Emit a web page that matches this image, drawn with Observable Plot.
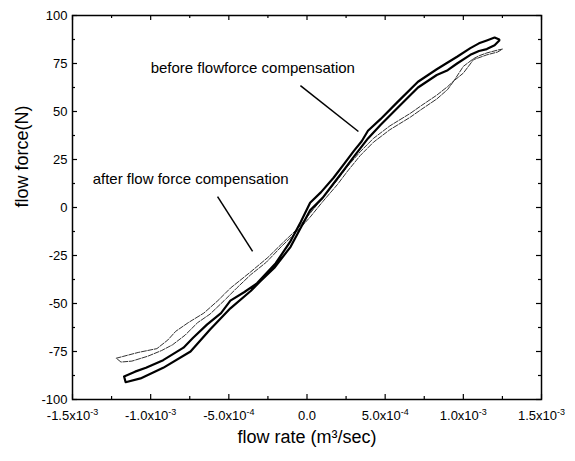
<!DOCTYPE html>
<html>
<head>
<meta charset="utf-8">
<script src="https://cdn.jsdelivr.net/npm/d3@7"></script>
<script src="https://cdn.jsdelivr.net/npm/@observablehq/plot@0.6"></script>
<style>
  html, body { margin: 0; padding: 0; background: #fff; }
  #chart svg { display: block; }
</style>
</head>
<body>
<div id="chart"></div>
<script>
// ---- Axis ticks ----
const xTickValues = [-1.5e-3, -1.0e-3, -5.0e-4, 0, 5.0e-4, 1.0e-3, 1.5e-3];
const xTickLabels = ["-1.5x10^-3", "-1.0x10^-3", "-5.0x10^-4", "0.0", "5.0x10^-4", "1.0x10^-3", "1.5x10^-3"];
const xMinorTicks = [-1.25e-3, -7.5e-4, -2.5e-4, 2.5e-4, 7.5e-4, 1.25e-3];
const yTickValues = [-100, -75, -50, -25, 0, 25, 50, 75, 100];
const yTickLabels = ["-100", "-75", "-50", "-25", "0", "25", "50", "75", "100"];
const yMinorTicks = [-87.5, -62.5, -37.5, -12.5, 12.5, 37.5, 62.5, 87.5];

// ---- "before flowforce compensation" loop (thick) ----
const beforeUpperX = [-11.7e-4, -11.0e-4, -10.3e-4, -9.2e-4, -7.9e-4, -7.3e-4, -6.4e-4, -5.5e-4, -4.9e-4, -4.0e-4, -3.2e-4, -2.0e-4, -1.05e-4, -0.4e-4, 0.2e-4, 0.9e-4, 1.7e-4, 2.4e-4, 3.0e-4, 3.5e-4, 3.9e-4, 4.7e-4, 5.8e-4, 7.1e-4, 8.3e-4, 9.0e-4, 9.6e-4, 10.45e-4, 11.0e-4, 11.5e-4, 12.0e-4, 12.3e-4];
const beforeUpperY = [-88, -85.5, -83.5, -79.5, -73, -68, -61, -55, -48.5, -44, -39.5, -29, -17.5, -7.5, 2.5, 8, 15.5, 23, 29.5, 34.5, 40, 46, 55, 65.5, 72, 75.5, 78.5, 83, 85.5, 87, 88.5, 87.5];
const beforeLowerX = [-11.7e-4, -11.6e-4, -10.65e-4, -9.2e-4, -7.45e-4, -6.2e-4, -4.9e-4, -3.6e-4, -3.0e-4, -2.1e-4, -1.05e-4, -0.4e-4, 0.2e-4, 1.0e-4, 1.7e-4, 2.4e-4, 3.0e-4, 3.9e-4, 4.7e-4, 5.8e-4, 7.1e-4, 8.3e-4, 9.0e-4, 9.6e-4, 10.45e-4, 11.0e-4, 11.5e-4, 12.0e-4, 12.3e-4];
const beforeLowerY = [-88, -91, -89, -83.5, -75, -63.5, -52.5, -43.5, -38.5, -31.5, -20.5, -10.5, -1.5, 5, 12.5, 20, 26.5, 36, 43, 52, 62.5, 69, 71.5, 75, 79.5, 81.5, 82.5, 84.5, 87];

// ---- "after flow force compensation" loop (thin) ----
const afterUpperX = [-12.2e-4, -11.5e-4, -10.8e-4, -9.6e-4, -8.9e-4, -8.4e-4, -7.6e-4, -6.6e-4, -5.7e-4, -4.9e-4, -3.6e-4, -2.5e-4, -1.5e-4, -0.6e-4, 0.2e-4, 1.0e-4, 1.95e-4, 2.6e-4, 3.4e-4, 4.25e-4, 5.3e-4, 6.6e-4, 7.3e-4, 8.3e-4, 9.0e-4, 9.4e-4, 10.0e-4, 10.65e-4, 11.0e-4, 11.5e-4, 12.2e-4, 12.5e-4];
const afterUpperY = [-78.5, -77, -75.5, -73.5, -69, -64.5, -60, -55, -48.5, -42, -33.5, -26, -18, -11, -3, 5, 14.5, 21.5, 29, 36, 42.5, 49, 53, 58.5, 63, 66, 73.5, 77.5, 79, 80.5, 82, 82.5];
const afterLowerX = [-12.2e-4, -11.9e-4, -11.2e-4, -10.2e-4, -9.3e-4, -8.6e-4, -7.8e-4, -7.0e-4, -6.2e-4, -5.3e-4, -4.5e-4, -3.6e-4, -2.6e-4, -1.6e-4, -0.7e-4, 0.2e-4, 1.0e-4, 1.95e-4, 2.6e-4, 3.4e-4, 4.25e-4, 5.3e-4, 6.6e-4, 7.3e-4, 8.3e-4, 9.0e-4, 9.4e-4, 10.0e-4, 10.65e-4, 11.5e-4, 12.2e-4, 12.5e-4];
const afterLowerY = [-78.5, -80.5, -80, -77.5, -74.5, -71.5, -66.5, -60, -55.5, -48.5, -42, -35, -28.5, -20, -13, -5, 3, 12, 19, 27, 34, 40.5, 47, 51, 56.5, 61.5, 66, 70, 77, 79.5, 81, 82.5];

// ---- Annotations ----
const annotationTexts = ["before flowforce compensation", "after flow force compensation"];
const annotationX = [-1.0e-3, -1.371e-3];
const annotationY = [72.4, 15.0];
const arrowX1 = [-4.2e-5, -5.72e-4];
const arrowY1 = [63.5, 5.7];
const arrowX2 = [3.29e-4, -3.48e-4];
const arrowY2 = [39.6, -22.9];

// ---- Build tables ----
function loop(ux, uy, lx, ly) {
  const up = ux.map((x, i) => ({x, y: uy[i]}));
  const low = lx.map((x, i) => ({x, y: ly[i]})).reverse();
  return up.concat(low);
}
const beforeLoop = loop(beforeUpperX, beforeUpperY, beforeLowerX, beforeLowerY);
const afterLoop = loop(afterUpperX, afterUpperY, afterLowerX, afterLowerY);
const annotations = annotationTexts.map((t, i) => ({t, x: annotationX[i], y: annotationY[i]}));
const arrows = arrowX1.map((x1, i) => ({x1, y1: arrowY1[i], x2: arrowX2[i], y2: arrowY2[i]}));

const FONT = "'Liberation Sans', Arial, Helvetica, sans-serif";
const frameH = 461 - 15 - 62;
const frameW = 575 - 72 - 34;

const chart = Plot.plot({
  width: 575,
  height: 461,
  marginLeft: 72,
  marginRight: 34,
  marginTop: 15,
  marginBottom: 62,
  style: {fontFamily: FONT, fontSize: "13px", color: "#000", background: "#fff", overflow: "visible"},
  x: {domain: [-1.5e-3, 1.5e-3]},
  y: {domain: [-100, 100]},
  marks: [
    // curves
    Plot.line(afterLoop, {x: "x", y: "y", stroke: "#333", strokeWidth: 1, strokeDasharray: "5,1.5"}),
    Plot.line(beforeLoop, {x: "x", y: "y", stroke: "#000", strokeWidth: 2.2}),
    // annotations
    Plot.link(arrows, {x1: "x1", y1: "y1", x2: "x2", y2: "y2", stroke: "#000", strokeWidth: 1.5}),
    Plot.text(annotations, {x: "x", y: "y", text: "t", textAnchor: "start", fontSize: 15, fill: "#000"}),
    // inward ticks
    Plot.tickX(xTickValues, {x: d => d, insetTop: frameH - 5, stroke: "#000", strokeWidth: 1.2}),
    Plot.tickX(xTickValues, {x: d => d, insetBottom: frameH - 5, stroke: "#000", strokeWidth: 1.2}),
    Plot.tickX(xMinorTicks, {x: d => d, insetTop: frameH - 3, stroke: "#000", strokeWidth: 1.2}),
    Plot.tickX(xMinorTicks, {x: d => d, insetBottom: frameH - 3, stroke: "#000", strokeWidth: 1.2}),
    Plot.tickY(yTickValues, {y: d => d, insetRight: frameW - 5, stroke: "#000", strokeWidth: 1.2}),
    Plot.tickY(yTickValues, {y: d => d, insetLeft: frameW - 5, stroke: "#000", strokeWidth: 1.2}),
    Plot.tickY(yMinorTicks, {y: d => d, insetRight: frameW - 3, stroke: "#000", strokeWidth: 1.2}),
    Plot.tickY(yMinorTicks, {y: d => d, insetLeft: frameW - 3, stroke: "#000", strokeWidth: 1.2}),
    // axes (labels only)
    Plot.axisX(xTickValues, {anchor: "bottom", tickSize: 0, tickPadding: 11, fontSize: 13, label: null,
      tickFormat: d => xTickLabels[xTickValues.indexOf(d)]}),
    Plot.axisY(yTickValues, {anchor: "left", tickSize: 0, tickPadding: 5, fontSize: 13, label: null,
      tickFormat: d => yTickLabels[yTickValues.indexOf(d)]}),
    // axis titles
    Plot.text(["flow rate (m³/sec)"], {frameAnchor: "bottom", dy: 43, fontSize: 18, fill: "#000"}),
    Plot.text(["flow force(N)"], {frameAnchor: "left", dx: -50, rotate: -90, fontSize: 18, fill: "#000"}),
    Plot.frame({stroke: "#000", strokeWidth: 1.5})
  ]
});

// superscript exponents in x tick labels
d3.select(chart).selectAll('g[aria-label="x-axis tick label"] text').each(function () {
  const t = this.textContent;
  if (t.includes("^")) {
    const [base, exp] = t.split("^");
    const sel = d3.select(this);
    sel.text(null);
    sel.append("tspan").text(base);
    sel.append("tspan").attr("dy", "-0.5em").attr("font-size", "9px").text(exp);
  }
});

document.getElementById("chart").appendChild(chart);
</script>
</body>
</html>
